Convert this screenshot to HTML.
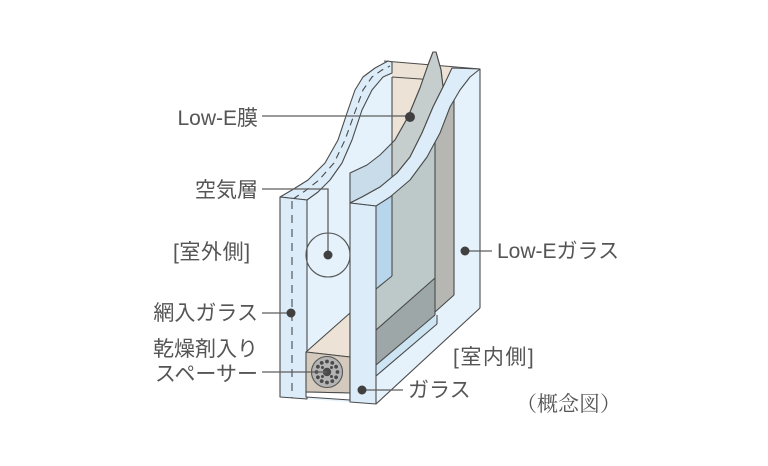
<!DOCTYPE html>
<html><head><meta charset="utf-8"><style>
html,body{margin:0;padding:0;background:#fff;}
svg{display:block;}
text{font-family:"Liberation Sans","Noto Sans CJK JP",sans-serif;font-size:21px;fill:#555555;}
</style></head><body>
<svg width="768" height="466" viewBox="0 0 768 466" xmlns="http://www.w3.org/2000/svg">
<defs><clipPath id="cr"><rect x="392" y="0" width="200" height="466"/></clipPath></defs>
<g stroke="#4a4a4a" stroke-width="1.1" stroke-linejoin="round">
<polygon points="280,197 292,190 308,180 325,163 338,140 347,113 355,90 363,77 375,68 388,61 480,69 480,308 376,404 350,402 306,399 280,397" fill="#e5f2fb" stroke="none"/>
<polygon points="376,200 435,130 435,278 376,330" fill="#bdc8c8" stroke="none"/>
<polygon points="435,125 454,92 454,295 435,312" fill="#b6b6b2" stroke="none"/>
<polygon points="376,206 392,192 392,276 376,289" fill="#b8d6eb" stroke="none"/>
<polygon points="376,330 435,278 435,315 376,365" fill="#9ea7a7" stroke="none"/>
<polygon points="376,365 435,315 437,324 376,376" fill="#cde4f3" stroke="none"/>
<line x1="392" y1="192" x2="392" y2="276"/>
<line x1="376" y1="289" x2="392" y2="276"/>
<line x1="376" y1="330" x2="435" y2="278"/>
<line x1="376" y1="365" x2="435" y2="315"/>
<line x1="376" y1="376" x2="437" y2="324"/>
<line x1="435" y1="130" x2="435" y2="315"/>
<line x1="437" y1="315" x2="437" y2="324"/>
<line x1="454" y1="92" x2="454" y2="295"/>
<line x1="435" y1="312" x2="454" y2="295"/>
<polygon points="392,62 452,67 445,90 430,120 410,150 392,165" fill="#ece2d5" stroke="none"/>
<line x1="392" y1="77" x2="435" y2="80"/>
<line x1="435" y1="80" x2="435" y2="110"/>
<line x1="384" y1="61" x2="480" y2="69"/>
<polygon points="433,52 436,52 441,70 443,87 433,107 422,133 410,157 397,173 380,187 362,197 350,203 350,173 367,165 380,155 395,140 408,117 420,88 428,65" fill="#c8dcea"/>
<polygon points="433,52 436,52 441,70 443,87 433,107 422,133 410,157 397,173 380,187 362,197 350,203 350,173 367,165 380,155 395,140 408,117 420,88 428,65" fill="#c6cdcd" clip-path="url(#cr)"/>
<line x1="392" y1="77" x2="392" y2="178"/>
<polygon points="350,203 362,197 380,187 397,173 410,157 422,133 433,107 443,87 452,68 480,69 470,77 460,90 450,107 440,133 427,157 410,180 390,197 376,206" fill="#dcedf9"/>
<polygon points="280,197 292,190 308,180 325,163 338,140 347,113 355,90 363,77 375,68 388,61 392,62 392,73 383,77 372,90 362,110 352,140 342,163 330,180 318,192 307,200" fill="#dcedf9"/>
<polyline points="293,199 305,191 319,180 334,163 345,140 355,112 363,90 372,77 382,70 390,66" fill="none" stroke-dasharray="7,5"/>
<polygon points="280,197 307,200 307,399 280,397" fill="#dcedf9"/>
<line x1="292" y1="201" x2="292" y2="398" stroke-dasharray="8,6"/>
<polygon points="306,352 350,313 350,357" fill="#ece2d5"/>
<polygon points="306,352 350,357 350,393 306,392" fill="#d3cabd"/>
<polygon points="306,392 350,393 350,400 306,397" fill="#ffffff"/>
<circle cx="327" cy="372" r="15.5" fill="#b4b4b4" stroke="#555"/>
<g fill="#4a4a4a" stroke="none">
<circle cx="337.5" cy="372" r="1.9"/><circle cx="336.1" cy="377.3" r="1.9"/><circle cx="332.3" cy="381.1" r="1.9"/><circle cx="327" cy="382.5" r="1.9"/><circle cx="321.7" cy="381.1" r="1.9"/><circle cx="317.9" cy="377.3" r="1.9"/><circle cx="316.5" cy="372" r="1.9"/><circle cx="317.9" cy="366.7" r="1.9"/><circle cx="321.7" cy="362.9" r="1.9"/><circle cx="327" cy="361.5" r="1.9"/><circle cx="332.3" cy="362.9" r="1.9"/><circle cx="336.1" cy="366.7" r="1.9"/>
<circle cx="331.5" cy="376.5" r="1.5"/><circle cx="322.5" cy="376.5" r="1.5"/><circle cx="331.5" cy="367.5" r="1.5"/><circle cx="322.5" cy="367.5" r="1.5"/>
<circle cx="327" cy="372" r="4.2"/>
</g>
<polygon points="350,203 376,206 376,404 350,402" fill="#dcedf9"/>
<line x1="480" y1="69" x2="480" y2="308"/>
<line x1="480" y1="308" x2="376" y2="404"/>
<circle cx="328" cy="255" r="22" fill="none" stroke="#555"/>
</g>
<g stroke="#5e5e5e" stroke-width="1.3" fill="none">
<line x1="262" y1="116" x2="410" y2="116"/>
<polyline points="262,189 328,189 328,255"/>
<line x1="262" y1="313" x2="291" y2="313"/>
<line x1="262" y1="372" x2="327" y2="372"/>
<line x1="362" y1="390" x2="403" y2="390"/>
<line x1="465" y1="251" x2="492" y2="251"/>
</g>
<g fill="#404040">
<circle cx="410" cy="117" r="5"/>
<circle cx="328" cy="255" r="4.5"/>
<circle cx="291" cy="313" r="4.5"/>
<circle cx="362" cy="390" r="4.5"/>
<circle cx="465" cy="251" r="4.5"/>
</g>
<text x="258" y="125" text-anchor="end">Low-E膜</text>
<text x="258" y="197" text-anchor="end">空気層</text>
<text x="173" y="259" style="letter-spacing:0.6px;">[室外側]</text>
<text x="258" y="320" text-anchor="end">網入ガラス</text>
<text x="258" y="356" text-anchor="end">乾燥剤入り</text>
<text x="258" y="381" text-anchor="end">スペーサー</text>
<text x="497" y="258">Low-Eガラス</text>
<text x="453" y="364" style="letter-spacing:1.5px;">[室内側]</text>
<text x="408" y="397">ガラス</text>
<text x="516" y="411" style="font-family:'Liberation Serif','Noto Serif CJK SC',serif;font-size:21px;">（概念図）</text>
</svg>
</body></html>
